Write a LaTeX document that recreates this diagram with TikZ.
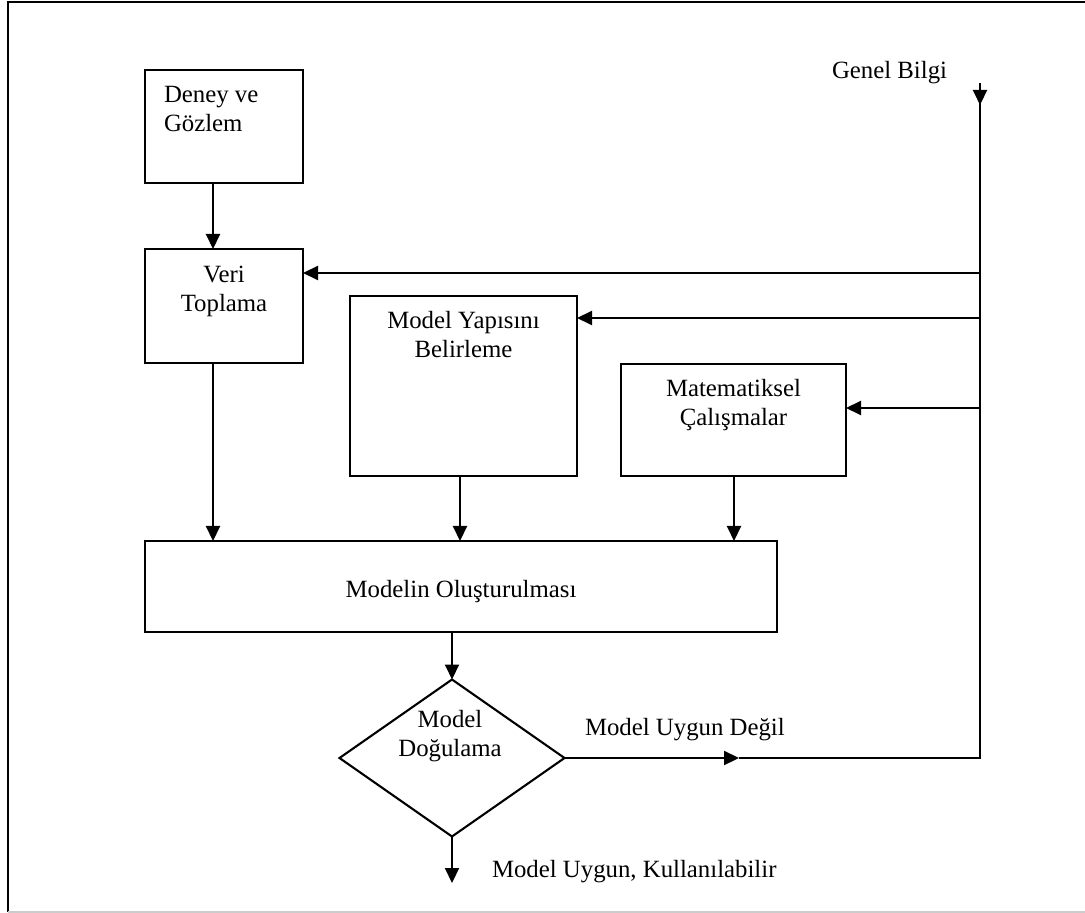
\documentclass[tikz,border=0pt]{standalone}
\usepackage{fontspec}
\setmainfont{Liberation Serif}
\usetikzlibrary{arrows.meta,shapes.geometric}
\begin{document}
\begin{tikzpicture}[x=0.5pt,y=-0.5pt,
  every node/.style={font=\fontsize{12.4}{14.5}\selectfont, inner sep=0pt, outer sep=0pt},
  box/.style={draw, line width=1.05pt, rectangle},
  lbl/.style={align=center, anchor=north},
  line/.style={line width=1.05pt},
  arr/.style={line width=1.05pt, -{Triangle[length=7.5pt,width=7pt]}}]
\useasboundingbox (0,0) rectangle (1085,913);
% frame
\draw[line width=1.05pt] (1085,2) -- (8,2) -- (8,912);
\draw[line width=1.05pt, black!20] (8,912) -- (1085,912);

% boxes
\node[box, minimum width=79pt, minimum height=56.5pt] (deney) at (224,126.5) {};
\node[align=left, anchor=north west] (deneyt) at (164,86.5) {Deney ve\\Gözlem};

\node[box, minimum width=79pt, minimum height=57pt] (veri) at (224,306) {};
\node[lbl] (verit) at (224,266.5) {Veri\\Toplama};

\node[box, minimum width=113.5pt, minimum height=90pt] (yap) at (463.5,386) {};
\node[lbl] (yapt) at (463.5,311) {Model Yapısını\\Belirleme};

\node[box, minimum width=112.5pt, minimum height=56pt] (mat) at (733.5,420) {};
\node[lbl] (matt) at (733.5,379) {Matematiksel\\Çalışmalar};

\node[box, minimum width=316pt, minimum height=45.5pt] (olus) at (461,586.5) {};
\node[anchor=base] (olust) at (461,597) {Modelin Oluşturulması};

\node[draw, line width=1.05pt, diamond, minimum width=112.5pt, minimum height=78.5pt] (dog) at (452,758) {};
\node[lbl] (dogt) at (450,710) {Model\\Doğulama};

% labels
\node[anchor=base west] (genel) at (832,79) {Genel Bilgi};
\node[anchor=base west] (degil) at (585,735) {Model Uygun Değil};
\node[anchor=base west] (uygun) at (492,877) {Model Uygun, Kullanılabilir};

% coordinates
\coordinate (xa) at (213,0);
\coordinate (xb) at (460,0);
\coordinate (xc) at (734,0);
\coordinate (gtop) at (980,83);
\coordinate (gtip) at (980,105);
\coordinate (j1) at (980,273);
\coordinate (j2) at (980,318);
\coordinate (j3) at (980,408);
\coordinate (gcorner) at (980,758);
\coordinate (mid) at (739,758);
\coordinate (out) at (452,883);

% connectors
\draw[arr] (deney.south -| xa) -- (veri.north -| xa);
\draw[arr] (veri.south -| xa) -- (olus.north -| xa);
\draw[arr] (yap.south -| xb) -- (olus.north -| xb);
\draw[arr] (mat.south -| xc) -- (olus.north -| xc);
\draw[arr] (olus.south -| dog.north) -- (dog.north);
\draw[arr] (dog.south) -- (out);

\draw[arr] (dog.east) -- (mid);
\draw[line] (mid) -- (gcorner) -- (gtop);
\draw[arr] (gtop) -- (gtip);

\draw[arr] (j1) -- (veri.east |- j1);
\draw[arr] (j2) -- (yap.east |- j2);
\draw[arr] (j3) -- (mat.east |- j3);
\end{tikzpicture}
\end{document}
